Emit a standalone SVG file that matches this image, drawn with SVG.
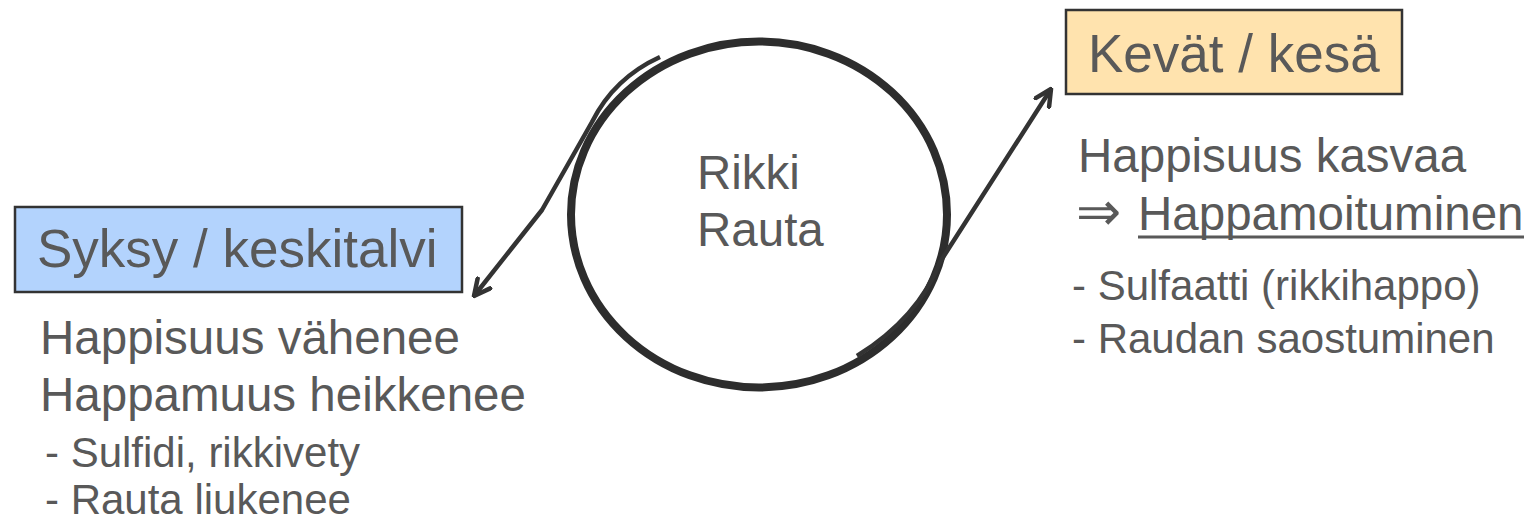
<svg xmlns="http://www.w3.org/2000/svg" width="1536" height="521" viewBox="0 0 1536 521">
<defs>
<style>
.t{font-family:"Liberation Sans",Arial,sans-serif;fill:#595959}
.h{font-size:53px}
.b{font-size:47.5px}
.s{font-size:42px}
.box{stroke:#333;stroke-width:2.5}
.con{fill:none;stroke:#333;stroke-width:4.5;stroke-linejoin:round}
</style>
<marker id="arr" viewBox="0 0 20 20" refX="18" refY="10" markerWidth="20" markerHeight="20" markerUnits="userSpaceOnUse" orient="auto">
<path d="M2,2 L18,10 L2,18" fill="none" stroke="#333" stroke-width="4.5" stroke-linecap="round" stroke-linejoin="round"/>
</marker>
</defs>
<rect width="1536" height="521" fill="#fff"/>
<g id="cycle">
<ellipse cx="759" cy="214.5" rx="188" ry="173" fill="none" stroke="#2d2d2d" stroke-width="8"/>
<text class="t b" x="697" y="189">Rikki</text>
<text class="t b" x="697" y="246">Rauta</text>
</g>
<g id="connectors">
<path class="con" d="M660,57 Q614,78 592,122 L542,210 L474,296" marker-end="url(#arr)"/>
<path class="con" d="M857,356 Q918,318 940,262 L1051,89" marker-end="url(#arr)"/>
</g>
<g id="kevat">
<rect class="box" x="1066" y="10" width="336" height="84" fill="#ffe3ae"/>
<text class="t h" x="1088" y="72">Kevät / kesä</text>
</g>
<g id="kevat-text">
<text class="t b" x="1078" y="172">Happisuus kasvaa</text>
<text class="t b" x="1076" y="230"><tspan font-family="DejaVu Sans,sans-serif" font-size="54" font-weight="200">⇒</tspan><tspan x="1138">Happamoituminen</tspan></text>
<line x1="1138" y1="237" x2="1524" y2="237" stroke="#595959" stroke-width="3"/>
<text class="t s" x="1072" y="300">- Sulfaatti (rikkihappo)</text>
<text class="t s" x="1072" y="353">- Raudan saostuminen</text>
</g>
<g id="syksy">
<rect class="box" x="15" y="207" width="447" height="85" fill="#b3d3fd"/>
<text class="t h" x="37" y="267">Syksy / keskitalvi</text>
</g>
<g id="syksy-text">
<text class="t b" x="40" y="354">Happisuus vähenee</text>
<text class="t b" x="40" y="411">Happamuus heikkenee</text>
<text class="t s" x="45" y="467">- Sulfidi, rikkivety</text>
<text class="t s" x="45" y="514">- Rauta liukenee</text>
</g>
</svg>
